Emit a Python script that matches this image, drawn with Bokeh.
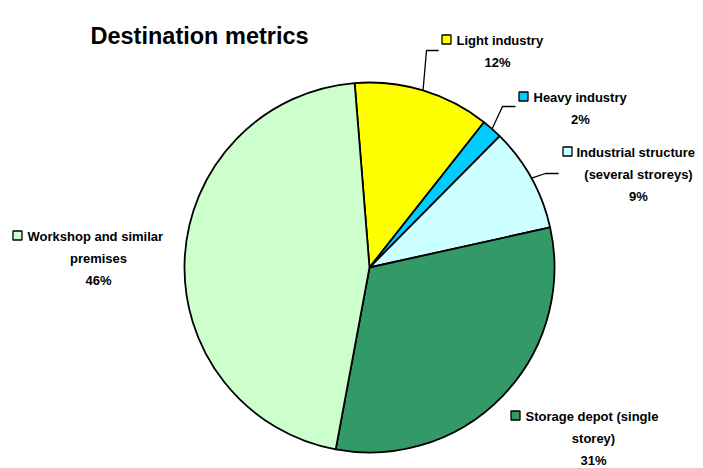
import math
from bokeh.plotting import figure
from bokeh.models import Range1d, ColumnDataSource
from bokeh.core.properties import value
from bokeh.embed import file_html
from bokeh.resources import INLINE

# ---- data ----
categories = ["Light industry", "Heavy industry", "Industrial structure (several stroreys)",
              "Storage depot (single storey)", "Workshop and similar premises"]
values = [11.9, 1.8, 9.1, 31.4, 45.8]
colors = ["#FFFF00", "#00CCFF", "#CCFFFF", "#339966", "#CCFFCC"]
label_lines = [
    ["Light industry"],
    ["Heavy industry"],
    ["Industrial structure", "(several stroreys)"],
    ["Storage depot (single", "storey)"],
    ["Workshop and similar", "premises"],
]

# ---- layout (pixels, y measured from top) ----
W, H = 703, 468
CX, CY, R = 369, 267, 185
START_DEG = -4.6  # clockwise from 12 o'clock
FONT = "Liberation Sans"
# square centre, first-line text start, centre x of following lines
label_pos = [
    dict(sq=(446, 39), tx=456, cx=497),
    dict(sq=(523, 96), tx=533, cx=580),
    dict(sq=(567, 151), tx=576, cx=638),
    dict(sq=(515, 415), tx=525, cx=593),
    dict(sq=(17, 235), tx=27, cx=98),
]
leader_elbows = [((426, 50), (438, 50)), ((502, 106), (515, 106)), ((545, 173), (558, 173)), None, None]
LINE_H = 22

def Y(ypx):
    return H - ypx

p = figure(width=W, height=H, output_backend="svg", toolbar_location=None,
           x_range=Range1d(0, W), y_range=Range1d(0, H), min_border=0)
p.axis.visible = False
p.grid.visible = False
p.outline_line_color = None
p.background_fill_color = "white"
p.border_fill_color = "white"

total = sum(values)
starts, ends, mids = [], [], []
acc = START_DEG
for v in values:
    t1 = acc
    t2 = acc + v / total * 360.0
    starts.append(math.radians(90 - t2))
    ends.append(math.radians(90 - t1))
    mids.append((t1 + t2) / 2)
    acc = t2

src = ColumnDataSource(dict(start=starts, end=ends, color=colors, cat=categories))
p.wedge(x=CX, y=Y(CY), radius=R, start_angle="start", end_angle="end",
        fill_color="color", line_color="black", line_width=1.8, source=src)

# leader lines
for i, el in enumerate(leader_elbows):
    if el is None:
        continue
    th = math.radians(mids[i])
    x0 = CX + R * math.sin(th)
    y0 = CY - R * math.cos(th)
    (ex, ey), (fx, fy) = el
    p.line([x0, ex, fx], [Y(y0), Y(ey), Y(fy)], line_color="black", line_width=1.3)

# labels
for i, lines in enumerate(label_lines):
    lp = label_pos[i]
    sx, sy = lp["sq"]
    p.rect(x=sx, y=Y(sy), width=9, height=9, fill_color=colors[i], line_color="black", line_width=1.3)
    p.text(x=[lp["tx"]], y=[Y(sy + 1)], text=[lines[0]], text_font=value(FONT), text_font_style="bold",
           text_font_size="13px", text_align="left", text_baseline="middle", text_color="black")
    pct = f"{round(values[i] / total * 100)}%"
    rest = lines[1:] + [pct]
    for j, t in enumerate(rest):
        p.text(x=[lp["cx"]], y=[Y(sy + 1 + (j + 1) * LINE_H)], text=[t], text_font=value(FONT),
               text_font_style="bold", text_font_size="13px", text_align="center",
               text_baseline="middle", text_color="black")

# title
p.text(x=[90], y=[Y(35)], text=["Destination metrics"], text_font=value(FONT), text_font_style="bold",
       text_font_size="23.5px", text_align="left", text_baseline="alphabetic", text_color="black")

open("out.html", "w").write(file_html(p, INLINE))
